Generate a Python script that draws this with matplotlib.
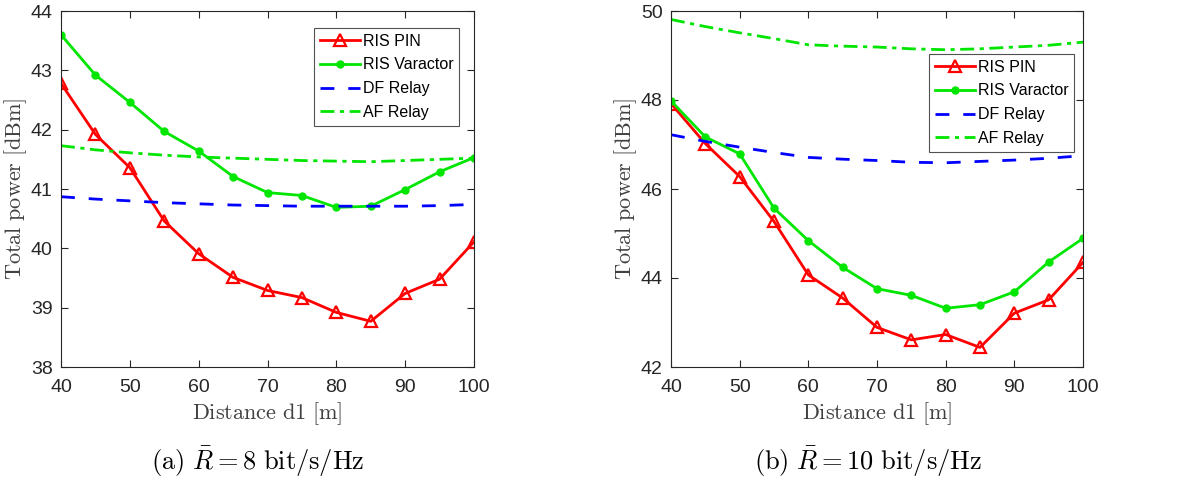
import matplotlib
matplotlib.use("Agg")
import matplotlib.pyplot as plt

plt.rcParams['mathtext.fontset'] = 'cm'
plt.rcParams['font.family'] = ['Liberation Sans', 'DejaVu Sans']

distance = [40, 45, 50, 55, 60, 65, 70, 75, 80, 85, 90, 95, 100]

# R = 8 bit/s/Hz
pin_8 = [42.78, 41.92, 41.36, 40.46, 39.91, 39.51, 39.29, 39.17, 38.92, 38.77, 39.24, 39.48, 40.11]
varactor_8 = [43.60, 42.92, 42.46, 41.97, 41.64, 41.21, 40.94, 40.89, 40.69, 40.71, 40.99, 41.29, 41.53]
df_8 = [40.87, 40.83, 40.80, 40.77, 40.75, 40.73, 40.72, 40.71, 40.71, 40.71, 40.71, 40.72, 40.74]
af_8 = [41.73, 41.66, 41.61, 41.57, 41.54, 41.52, 41.50, 41.48, 41.47, 41.46, 41.48, 41.50, 41.52]

# R = 10 bit/s/Hz
pin_10 = [47.92, 47.02, 46.28, 45.27, 44.07, 43.55, 42.89, 42.61, 42.73, 42.44, 43.21, 43.51, 44.35]
varactor_10 = [47.98, 47.17, 46.79, 45.57, 44.84, 44.24, 43.76, 43.61, 43.32, 43.40, 43.69, 44.36, 44.89]
df_10 = [47.22, 47.07, 46.94, 46.82, 46.71, 46.67, 46.64, 46.60, 46.59, 46.62, 46.65, 46.69, 46.75]
af_10 = [49.81, 49.65, 49.51, 49.38, 49.24, 49.21, 49.19, 49.15, 49.13, 49.15, 49.19, 49.23, 49.30]

series_labels = ['RIS PIN', 'RIS Varactor', 'DF Relay', 'AF Relay']
captions = [r'$\mathrm{(a)}\ \bar{R} = 8\ \mathrm{bit/s/Hz}$',
            r'$\mathrm{(b)}\ \bar{R} = 10\ \mathrm{bit/s/Hz}$']

fig = plt.figure(figsize=(11.83, 4.83), dpi=100)
ax1 = fig.add_axes([61 / 1183, 1 - 367 / 483, 413 / 1183, 356 / 483])
ax2 = fig.add_axes([671 / 1183, 1 - 367 / 483, 412 / 1183, 356 / 483])

GREEN = '#00e600'


def draw(ax, pin, var, df, af, ylim, yticks, legend_box):
    ax.plot(distance, pin, color='#ff0000', lw=2, marker='^', ms=9,
            mfc='none', mew=1.6, label=series_labels[0])
    ax.plot(distance, var, color=GREEN, lw=2, marker='o', ms=5,
            label=series_labels[1])
    ax.plot(distance, df, color='#0000ff', lw=2, ls=(0, (5, 5)),
            label=series_labels[2])
    ax.plot(distance, af, color=GREEN, lw=2, ls=(0, (5, 2, 1.5, 2)),
            label=series_labels[3])
    ax.set_xlim(40, 100)
    ax.set_ylim(*ylim)
    ax.set_xticks(range(40, 101, 10))
    ax.set_yticks(yticks)
    ax.tick_params(direction='in', top=True, right=True, labelsize=14,
                   colors='#262626', length=5)
    ax.tick_params(axis='x', pad=9)
    ax.tick_params(axis='y', pad=6)
    for s in ax.spines.values():
        s.set_color('#262626')
        s.set_linewidth(0.8)
    ax.set_xlabel(r'$\mathrm{Distance\ d1\ [m]}$', fontsize=16, color='#404040', labelpad=3)
    ax.set_ylabel(r'$\mathrm{Total\ power\ [dBm]}$', fontsize=16, color='#404040', labelpad=1)
    leg = ax.legend(loc='upper left', bbox_to_anchor=legend_box, fontsize=11.5,
                    frameon=True, fancybox=False, edgecolor='#262626',
                    handlelength=2.5, handletextpad=0.2, borderpad=0.35,
                    labelspacing=0.55, borderaxespad=0)
    leg.get_frame().set_linewidth(0.8)


draw(ax1, pin_8, varactor_8, df_8, af_8, (38, 44), range(38, 45),
     ((314 - 61) / 413, (367 - 28) / 356))
draw(ax2, pin_10, varactor_10, df_10, af_10, (42, 50), range(42, 51, 2),
     ((929 - 671) / 412, (367 - 54) / 356))

fig.text(258 / 1183, 1 - 462 / 483, captions[0], fontsize=19,
         ha='center', va='center')
fig.text(868 / 1183, 1 - 462 / 483, captions[1], fontsize=19,
         ha='center', va='center')

fig.savefig('out.png', dpi=100)
